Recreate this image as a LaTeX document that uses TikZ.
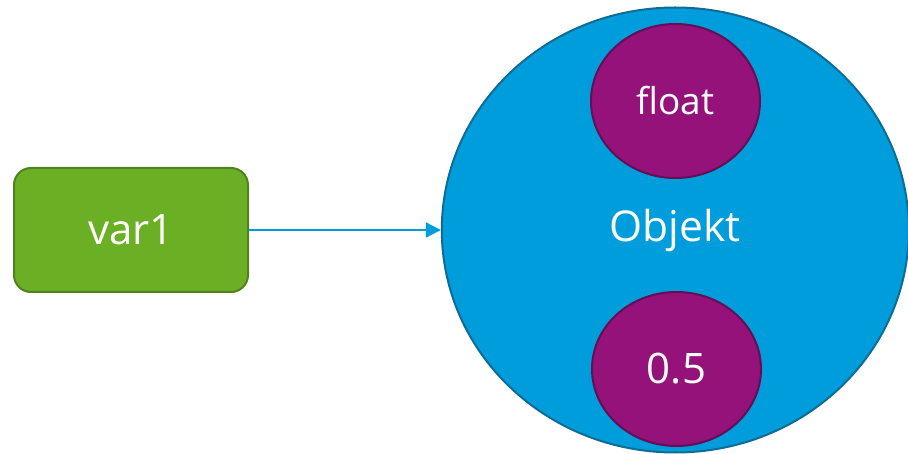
\documentclass[tikz,border=0pt]{standalone}
\usepackage{fontspec}
\setmainfont{Open Sans}
\usetikzlibrary{shapes.geometric,arrows.meta}

\definecolor{boxgreen}{RGB}{107,175,36}
\definecolor{boxgreenline}{RGB}{82,130,30}
\definecolor{objblue}{RGB}{0,157,220}
\definecolor{objblueline}{RGB}{14,108,150}
\definecolor{valpurple}{RGB}{149,18,122}
\definecolor{valpurpleline}{RGB}{100,14,84}

\tikzset{
  varbox/.style={draw=boxgreenline, fill=boxgreen, line width=2pt,
    rounded corners=17pt, minimum width=234pt, minimum height=124pt,
    inner sep=0pt, text=white, font=\fontsize{42}{50}\selectfont},
  objcircle/.style={ellipse, draw=objblueline, fill=objblue, line width=2pt,
    minimum width=467pt, minimum height=445pt, inner sep=0pt,
    text=white, font=\fontsize{42.5}{51}\selectfont},
  valcircle/.style={ellipse, draw=valpurpleline, fill=valpurple, line width=2pt,
    minimum width=169pt, minimum height=154pt, inner sep=0pt,
    text=white, font=\fontsize{37}{44}\selectfont},
  link/.style={draw=objblue, line width=2.2pt,
    -{Triangle[length=15pt,width=15pt]}}
}

\begin{document}
\begin{tikzpicture}[x=1pt, y=-1pt]
  \useasboundingbox (0,0) rectangle (908,454);
  \begin{scope}
    \clip (0,0) rectangle (908,454);
    \node[varbox] (var) at (131,230) {var1};
    \node[objcircle] (obj) at (675.3,230) {Objekt};
    \node[valcircle] (float) at (675.5,101) {float};
    \node[valcircle, font=\fontsize{42}{50}\selectfont] (val) at (676.5,369) {0.5};
    \draw[link] (var.east) -- (obj.west);
  \end{scope}
\end{tikzpicture}
\end{document}
